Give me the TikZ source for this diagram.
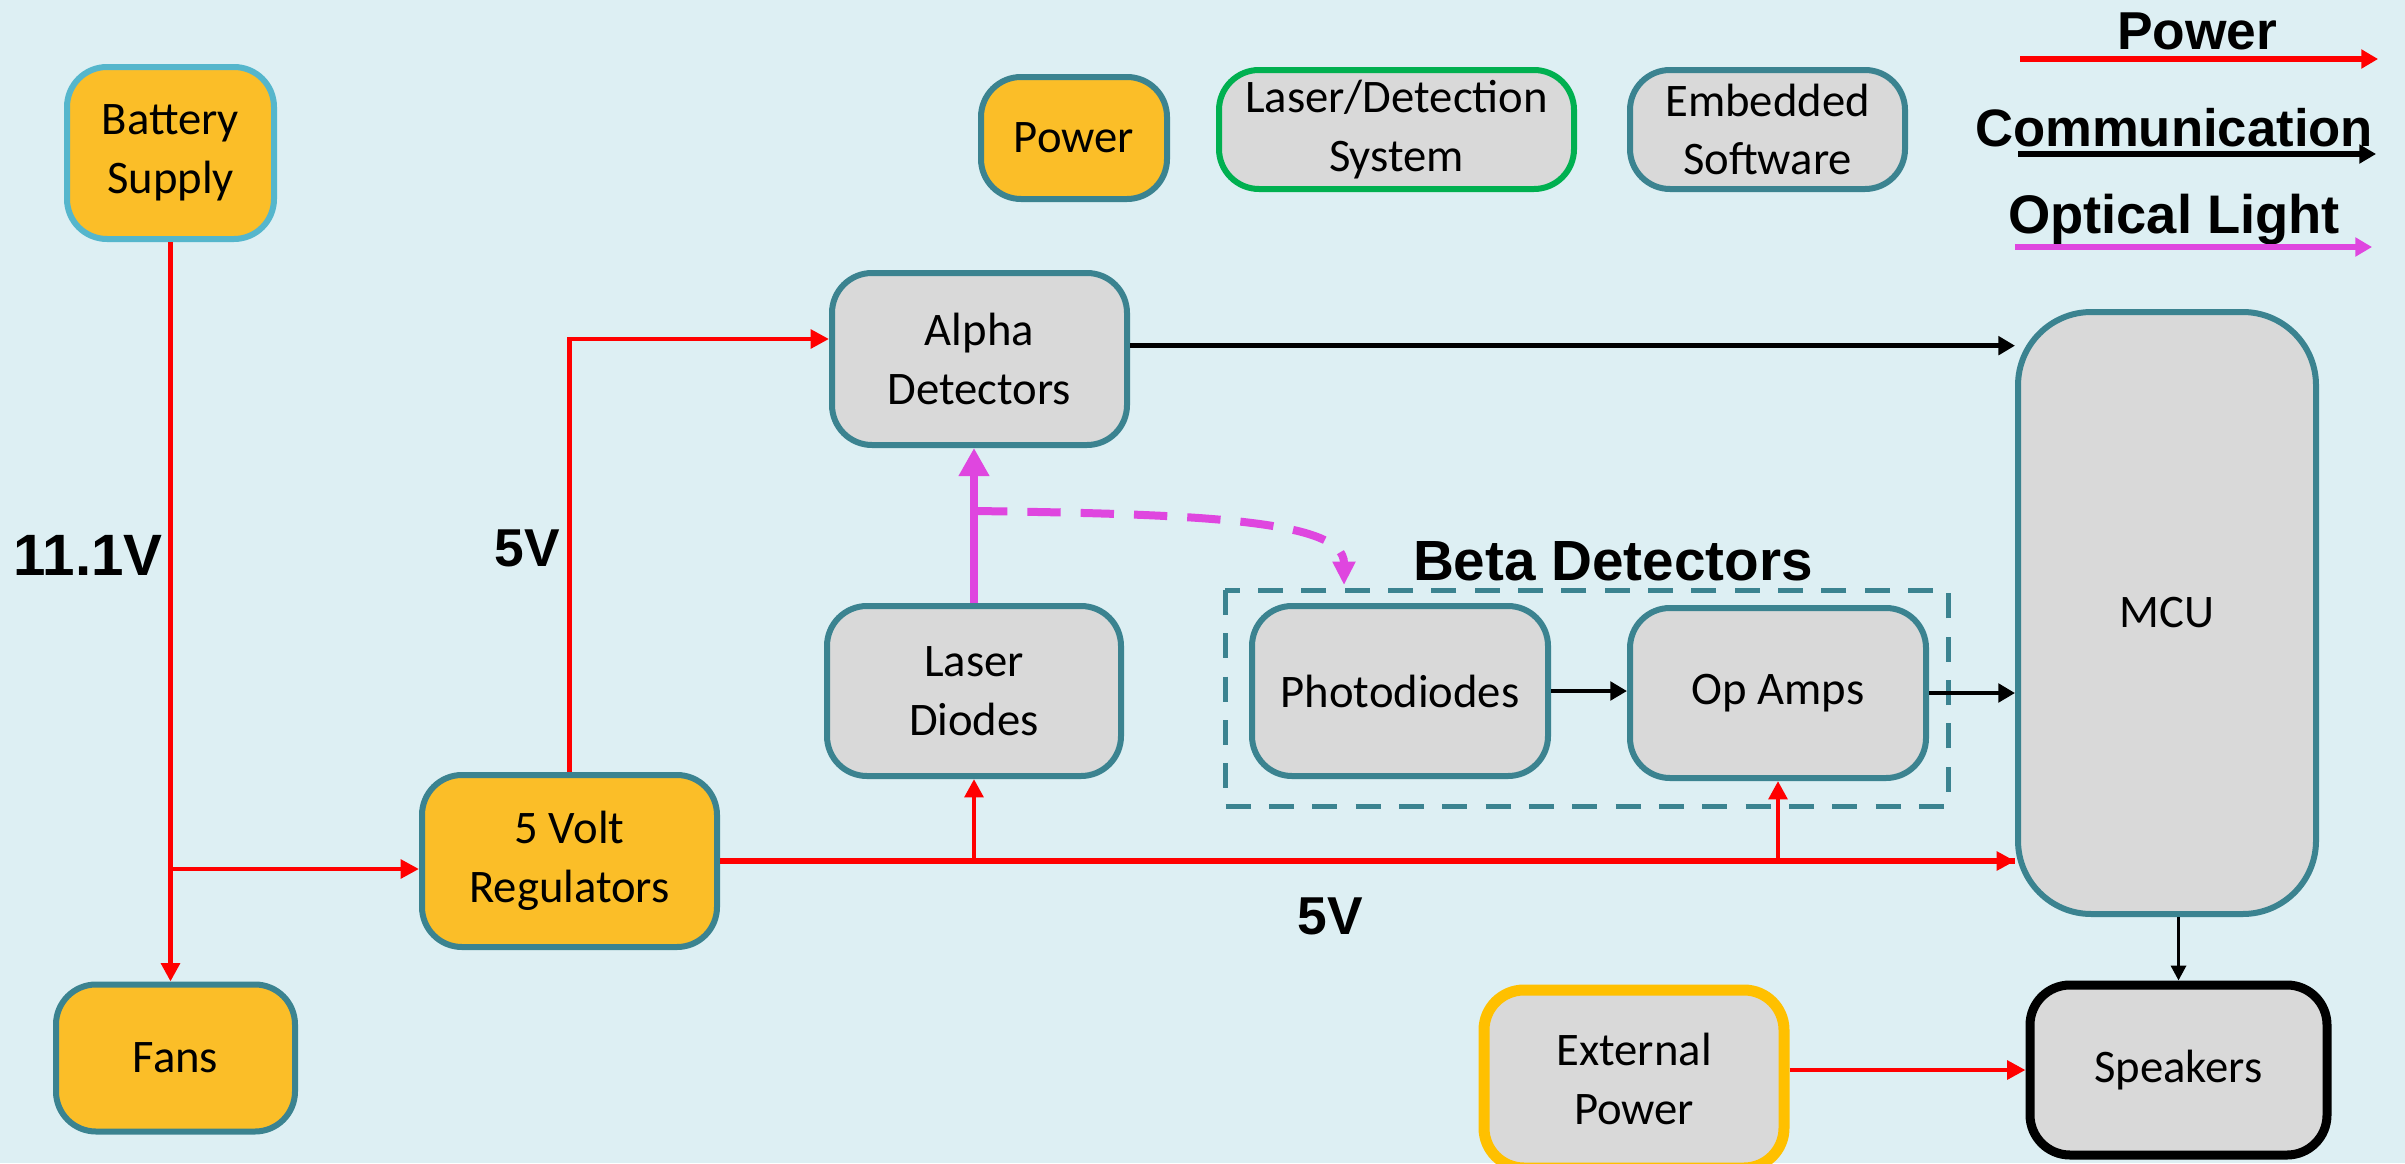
\documentclass[tikz,border=0pt]{standalone}
\usepackage{fontspec}
\setmainfont{Carlito}
\newfontfamily\labfont{Liberation Sans}
\usetikzlibrary{arrows.meta}
\definecolor{bgc}{HTML}{DDEFF3}
\definecolor{orangec}{HTML}{FBBE28}
\definecolor{tealc}{HTML}{3B8390}
\definecolor{cyanc}{HTML}{55B6CC}
\definecolor{grayc}{HTML}{D9D9D9}
\definecolor{greenc}{HTML}{00B050}
\definecolor{yellowc}{HTML}{FFC000}
\definecolor{magc}{HTML}{DF46DF}
\definecolor{redc}{HTML}{FF0000}
\tikzset{
  box/.style={draw=tealc, line width=1.8pt, rounded corners=12pt, fill=grayc,
    align=center, inner sep=0pt, font=\fontsize{14}{17.6}\selectfont},
  pbox/.style={box, fill=orangec},
  wh/.style 2 args={minimum width=#1*0.3pt, minimum height=#2*0.3pt},
  pwr/.style={draw=redc, line width=1.4pt, -{Triangle[length=5.5pt,width=5.5pt]}},
  pwrbus/.style={draw=redc, line width=1.8pt},
  com/.style={draw=black, line width=1.4pt, -{Triangle[length=5pt,width=5.5pt]}},
  opt/.style={draw=magc, line width=2.3pt, -{Triangle[length=8.4pt,width=8.7pt]}},
  optd/.style={draw=magc, line width=2.4pt, dash pattern=on 10pt off 6pt,
    -{Triangle[length=7pt,width=6.5pt]}},
  lab/.style={font=\labfont\bfseries\fontsize{16}{18}\selectfont, inner sep=0pt},
  legarrow/.style={line width=2pt, -{Triangle[length=5pt,width=5.5pt]}}
}
\begin{document}
\begin{tikzpicture}[x=0.3pt, y=-0.3pt]
\fill[bgc] (0,0) rectangle (2405,1163);
\useasboundingbox (0,0) rectangle (2405,1163);

% legend boxes
\node[pbox, wh={186}{122}] (lgpow) at (1074,138) {Power};
\node[box, draw=greenc, wh={355}{119}] (lglaser) at (1396.5,129.5) {Laser/Detection\\System};
\node[box, wh={275}{119}] (lgemb) at (1767.5,129.5) {Embedded\\Software};

% legend arrows
\node[lab] (tpow) at (2197,31) {Power};
\node[lab, font=\labfont\bfseries\fontsize{15.8}{17}\selectfont] (tcom) at (2174,128) {Communication};
\node[lab, font=\labfont\bfseries\fontsize{16.3}{18}\selectfont] (topt) at (2174,220) {Optical Light};
\coordinate (pa1) at (2020,59); \coordinate (pa2) at (2378,59);
\coordinate (ca1) at (2018,154); \coordinate (ca2) at (2376,154);
\coordinate (oa1) at (2015,247); \coordinate (oa2) at (2372,247);
\draw[legarrow, draw=redc] (pa1) -- (pa2);
\draw[legarrow, draw=black] (ca1) -- (ca2);
\draw[legarrow, draw=magc] (oa1) -- (oa2);

% main boxes
\node[pbox, draw=cyanc, wh={207}{172}] (bat) at (170.5,153) {Battery\\Supply};
\node[pbox, wh={239}{147}] (fans) at (175.5,1058) {Fans};
\node[pbox, wh={295}{172}] (reg) at (569.5,861) {5 Volt\\Regulators};
\node[box, wh={295}{172}] (alpha) at (979.5,359) {Alpha\\Detectors};
\node[box, wh={294}{170}] (ld) at (974,691) {Laser\\Diodes};
\draw[draw=tealc, line width=1.5pt, dash pattern=on 7.5pt off 5.5pt] (1225,590) rectangle (1948,806);
\node[box, wh={296}{170}] (pd) at (1400,691) {Photodiodes};
\node[box, wh={296}{170}] (op) at (1778,693) {Op Amps};
\node[box, rounded corners=22pt, wh={298}{602}] (mcu) at (2167,613) {MCU};
\node[box, draw=black, line width=2.7pt, wh={297}{170}] (spk) at (2178.5,1070) {Speakers};
\node[box, draw=yellowc, line width=3.3pt, wh={300}{178}] (ext) at (1634,1079) {External\\Power};

% labels
\node[lab, font=\labfont\bfseries\fontsize{17.5}{19}\selectfont] (v11) at (88,555) {11.1V};
\node[lab] (v5a) at (527,548) {5V};
\node[lab] (v5b) at (1330,916) {5V};
\node[lab, font=\labfont\bfseries\fontsize{17}{19}\selectfont] (beta) at (1613,561) {Beta Detectors};

% power connectors
\draw[pwr] (bat.south) -- (bat.south |- fans.north);
\coordinate (br1) at (bat.south |- 0,869);
\draw[pwr] (br1) -- (br1 -| reg.west);
\draw[pwr] (reg.north) |- ([yshift=6pt]alpha.west);
\draw[pwrbus] (reg.east) -- (reg.east -| mcu.west);
\draw[pwr, line width=1.8pt] ([xshift=-20pt]reg.east -| mcu.west) -- (reg.east -| mcu.west);
\coordinate (bld) at (ld.south |- reg.east);
\coordinate (bop) at (op.south |- reg.east);
\draw[pwr] (bld) -- (ld.south);
\draw[pwr] (bop) -- (op.south);
\draw[pwr] (ext.east |- spk.west) -- (spk.west);

% communication connectors
\draw[com] ([yshift=4pt]alpha.east) -- ([yshift=4pt]alpha.east -| mcu.west);
\draw[com] (pd.east) -- (op.west |- pd.east);
\draw[com] (op.east) -- (op.east -| mcu.west);
\draw[com, line width=1pt, -{Triangle[length=4.5pt,width=4.5pt]}] (spk.north |- mcu.south) -- (spk.north);

% optical connectors
\draw[opt] (ld.north) -- (ld.north |- alpha.south);
\coordinate (ms) at (ld.north |- 0,511);
\coordinate (mt) at (1344,585);
\draw[optd] (ms) .. controls (1200,514) and (1344,520) .. (mt);
\end{tikzpicture}
\end{document}
